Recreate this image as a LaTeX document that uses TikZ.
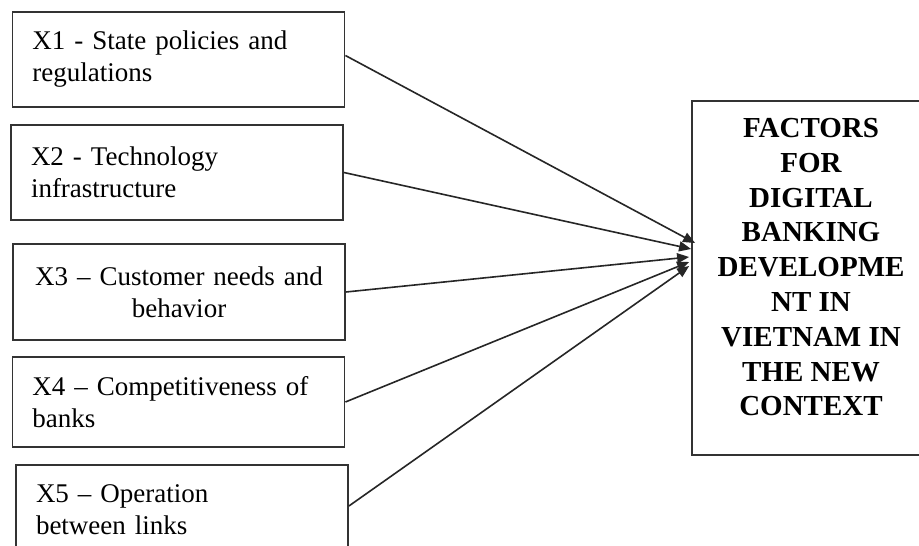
\documentclass[tikz,border=0pt]{standalone}
\usepackage{fontspec}
\setmainfont{Liberation Serif}
\usetikzlibrary{arrows.meta, calc}

\begin{document}
\begin{tikzpicture}[x=0.5pt, y=-0.5pt,
    factor/.style={rectangle, draw=black!80, line width=0.9pt, inner xsep=10pt, inner ysep=2pt,
                text width=146pt, minimum height=47.5pt, align=left, font=\fontsize{13.5}{16}\selectfont},
    target/.style={rectangle, draw=black!80, line width=0.9pt, minimum width=119pt, text depth=11pt,
                minimum height=177pt, align=center, font=\fontsize{14.5}{17.4}\selectfont\bfseries},
    link/.style={-{Triangle[length=6pt, width=5pt]}, line width=0.8pt, black!85}]

    \useasboundingbox (0,0) rectangle (919,545);
    \fill[white] (0,0) rectangle (919,545);

    % Boxes
    \node[factor] (x1) at (178.5, 59.5) {X1 - State policies and\\regulations};
    \node[factor] (x2) at (177, 172.5) {X2 - Technology\\infrastructure};
    \node[factor, align=center, minimum height=48pt] (x3) at (179, 292) {X3 -- Customer needs and\\behavior};
    \node[factor, minimum height=45pt] (x4) at (178.5, 402) {X4 -- Competitiveness of\\banks};
    \node[factor, minimum height=45pt] (x5) at (182, 510) {X5 -- Operation\\between links};

    % Outcome
    \node[target] (factors) at (811, 278) {FACTORS\\FOR\\DIGITAL\\BANKING\\DEVELOPME\\NT IN\\VIETNAM IN\\THE NEW\\CONTEXT};

    % Arrow ends
    \coordinate (in1) at ($(factors.west)+(4,-35)$);
    \coordinate (in2) at ($(factors.west)+(0,-29)$);
    \coordinate (in3) at ($(factors.west)+(-2,-21)$);
    \coordinate (in4) at ($(factors.west)+(-2,-16)$);
    \coordinate (in5) at ($(factors.west)+(-2,-12)$);

    % Arrows
    \draw[link] ([yshift=2pt]x1.east) -- (in1);
    \draw[link] (x2.east) -- (in2);
    \draw[link] (x3.east) -- (in3);
    \draw[link] (x4.east) -- (in4);
    \draw[link] ([yshift=2pt]x5.east) -- (in5);
\end{tikzpicture}
\end{document}
